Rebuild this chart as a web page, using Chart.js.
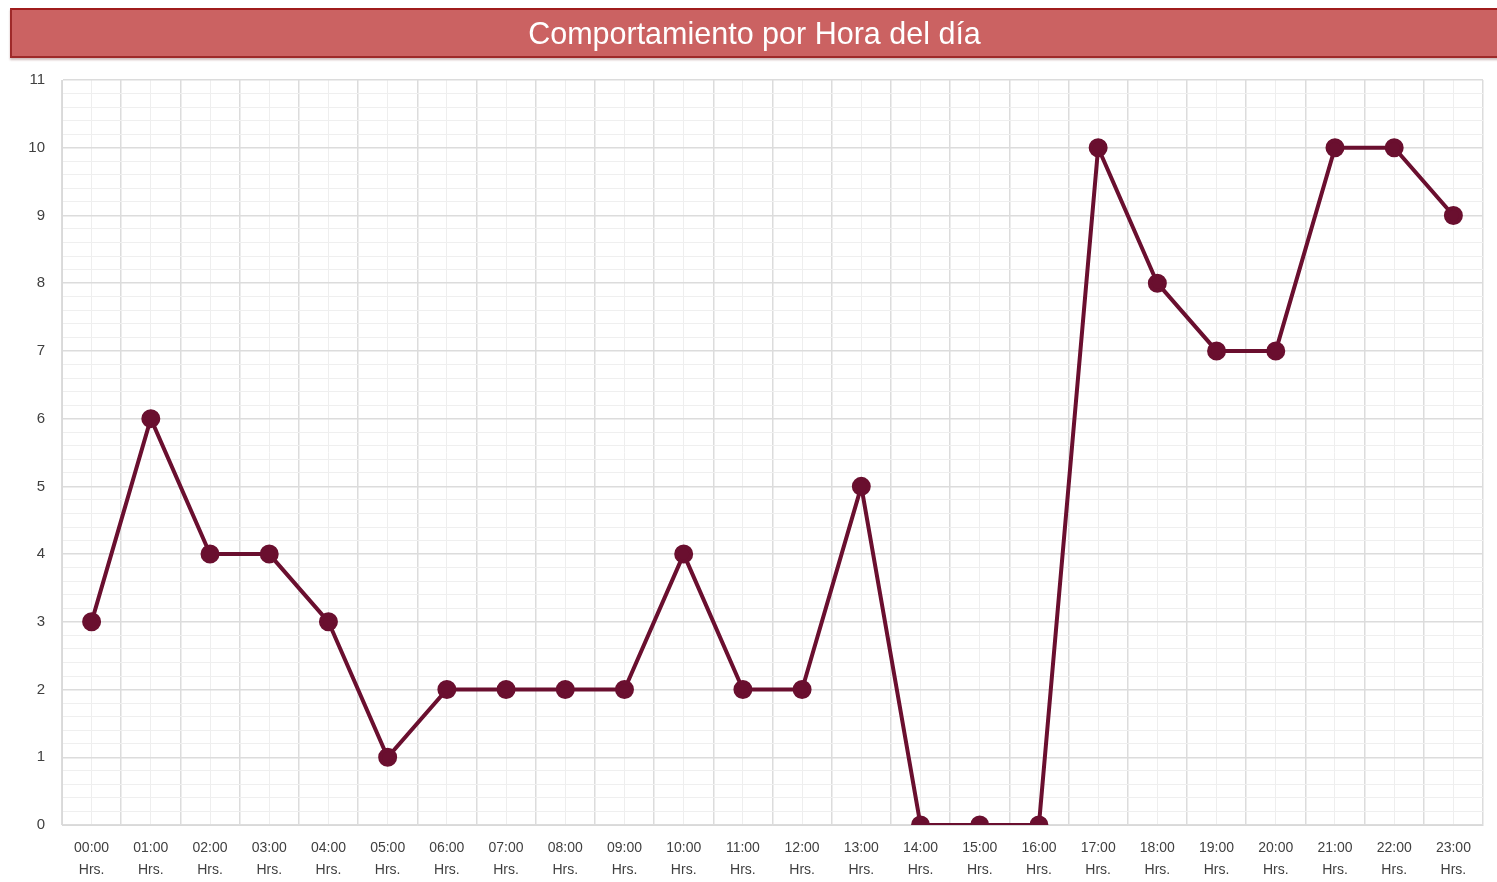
<!DOCTYPE html>
<html>
<head>
<meta charset="utf-8">
<script src="https://cdn.jsdelivr.net/npm/chart.js@4/dist/chart.umd.min.js"></script>
<style>
  html, body { margin: 0; padding: 0; background: #fff; overflow: hidden; }
  #titulo {
    position: absolute; left: 10px; top: 8px; width: 1485px; height: 46px;
    background: #cb6262; border: 2px solid #9e2a2a; border-top-color: #a01c1c;
    color: #fff; font-family: "Liberation Sans", Arial, sans-serif; font-size: 30.5px;
    line-height: 46px; text-align: center; box-shadow: 0 2px 2px rgba(120,60,60,0.35);
  }
  #wrap { position: absolute; left: 0; top: 0; width: 1497px; height: 882px; }
</style>
</head>
<body>
<div id="wrap"><canvas id="grafico-horas" width="1497" height="882"></canvas></div>
<div id="titulo">Comportamiento por Hora del día</div>
<script>
// Datos
const horas = ["00:00","01:00","02:00","03:00","04:00","05:00","06:00","07:00","08:00","09:00","10:00","11:00",
               "12:00","13:00","14:00","15:00","16:00","17:00","18:00","19:00","20:00","21:00","22:00","23:00"];
const cantidades = [3, 6, 4, 4, 3, 1, 2, 2, 2, 2, 4, 2, 2, 5, 0, 0, 0, 10, 8, 7, 7, 10, 10, 9];
const ejeYMax = 11;

const esEntero = v => Math.abs(v - Math.round(v)) < 1e-6;

const ctx = document.getElementById("grafico-horas").getContext("2d");
new Chart(ctx, {
    type: "line",
    data: {
        labels: horas.map(h => [h, "Hrs."]),
        datasets: [{
            data: cantidades,
            borderColor: "#6a0f2f",
            backgroundColor: "#6a0f2f",
            borderWidth: 4,
            pointRadius: 7.5,
            pointHoverRadius: 7.5,
            tension: 0,
            xAxisID: "x",
            yAxisID: "y"
        }]
    },
    options: {
        responsive: false,
        animation: false,
        layout: { padding: { top: 80, right: 14, left: 0, bottom: 0 } },
        plugins: { legend: { display: false }, tooltip: { enabled: false } },
        scales: {
            // líneas verticales finas en el centro de cada hora
            xMenor: {
                type: "category",
                position: "bottom",
                offset: true,
                ticks: { display: false },
                border: { display: false },
                grid: { offset: false, drawTicks: false, color: "#eeeeee", lineWidth: 1 },
                afterFit: s => { s.height = 0; }
            },
            x: {
                type: "category",
                position: "bottom",
                offset: true,
                border: { display: true, color: "#d9d9d9" },
                grid: { offset: true, drawTicks: false, color: "#dcdcdc", lineWidth: 1.5 },
                ticks: {
                    color: "#404040",
                    font: { family: "Liberation Sans", size: 14, lineHeight: 1.6 },
                    padding: 12,
                    maxRotation: 0,
                    autoSkip: false
                },
                afterFit: s => { s.height = 57; }
            },
            y: {
                min: 0,
                max: ejeYMax,
                border: { display: true, color: "#d9d9d9" },
                grid: {
                    drawTicks: false,
                    color: c => esEntero(c.tick.value) ? "#dcdcdc" : "#efefef",
                    lineWidth: c => esEntero(c.tick.value) ? 1.5 : 1
                },
                ticks: {
                    stepSize: 0.2,
                    maxTicksLimit: 100,
                    autoSkip: false,
                    padding: 17,
                    color: "#404040",
                    font: { family: "Liberation Sans", size: 15 },
                    callback: v => esEntero(v) ? String(Math.round(v)) : ""
                },
                afterFit: s => { s.width = 62; }
            }
        }
    }
});
</script>
</body>
</html>
